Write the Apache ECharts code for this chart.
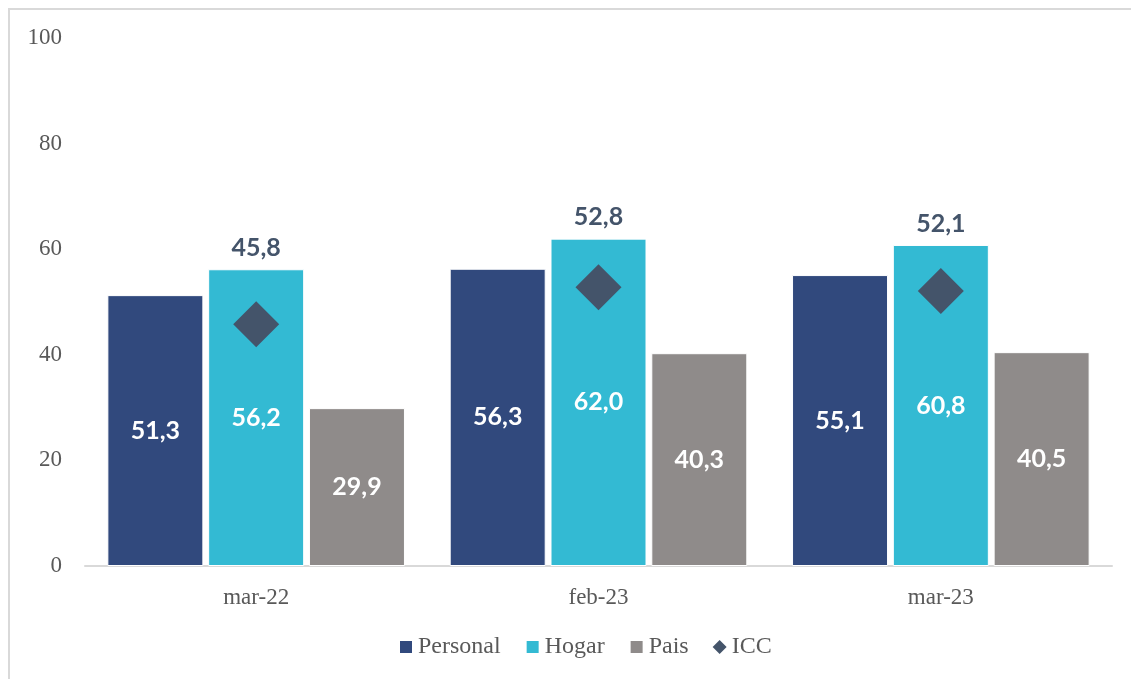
<!DOCTYPE html>
<html>
<head>
<meta charset="utf-8">
<script src="https://cdn.jsdelivr.net/npm/echarts@6/dist/echarts.min.js"></script>
<style>
  html, body { margin: 0; padding: 0; background: #fff; }
  .frame {
    position: absolute; left: 8px; top: 8px;
    width: 1140px; height: 700px;
    border: 2px solid #d9d9d9;
  }
  #iccChart { position: absolute; left: 0; top: 0; width: 1131px; height: 679px; }
</style>
</head>
<body>
<div class="frame"></div>
<div id="iccChart"></div>
<script>
const categories = ['mar-22', 'feb-23', 'mar-23']
const personal = [51.3, 56.3, 55.1]
const hogar = [56.2, 62.0, 60.8]
const pais = [29.9, 40.3, 40.5]
const icc = [45.8, 52.8, 52.1]
const yTicks = [0, 20, 40, 60, 80, 100]

const serif = '"Liberation Serif", "DejaVu Serif", serif'
const sans = 'Lato, "Open Sans", sans-serif'

const fmt = (v) => v.toFixed(1).replace('.', ',')

const insideLabel = {
  show: true,
  position: 'inside',
  color: '#fff',
  fontFamily: sans,
  fontWeight: 'bold',
  fontSize: 25,
  formatter: (p) => fmt(p.value)
}

const myChart = echarts.init(document.getElementById('iccChart'))
const options = {
  animation: false,
  grid: { left: 85, right: 19, top: 38, bottom: 113 },
  legend: {
    bottom: 15,
    left: 393,
    itemWidth: 14,
    itemHeight: 14,
    itemGap: 24,
    textStyle: { fontFamily: serif, fontSize: 24, color: '#595959' },
    data: [
      { name: 'Personal', icon: 'rect' },
      { name: 'Hogar', icon: 'rect' },
      { name: 'Pais', icon: 'rect' },
      { name: 'ICC', icon: 'diamond' }
    ]
  },
  xAxis: {
    type: 'category',
    data: categories,
    axisLine: { lineStyle: { color: '#d9d9d9', width: 2 } },
    axisTick: { show: false },
    axisLabel: { fontFamily: serif, fontSize: 23, color: '#595959', margin: 20 }
  },
  yAxis: {
    type: 'value',
    min: yTicks[0],
    max: yTicks[yTicks.length - 1],
    interval: 20,
    splitLine: { show: false },
    axisLine: { show: false },
    axisTick: { show: false },
    axisLabel: { fontFamily: serif, fontSize: 23, color: '#595959', margin: 23 }
  },
  series: [
    {
      name: 'Personal',
      type: 'bar',
      barWidth: 96,
      data: personal,
      itemStyle: { color: '#31497d', borderColor: '#fff', borderWidth: 1 },
      label: insideLabel
    },
    {
      name: 'Hogar',
      type: 'bar',
      barWidth: 96,
      data: hogar,
      itemStyle: { color: '#33bad3', borderColor: '#fff', borderWidth: 1 },
      label: insideLabel
    },
    {
      name: 'Pais',
      type: 'bar',
      barWidth: 96,
      barGap: '5%',
      data: pais,
      itemStyle: { color: '#8f8b8a', borderColor: '#fff', borderWidth: 1 },
      label: insideLabel
    },
    {
      name: 'ICC',
      type: 'scatter',
      symbol: 'diamond',
      symbolSize: 46,
      data: icc,
      itemStyle: { color: '#44546a', opacity: 1 }
    },
    {
      // etiqueta del ICC, sobre la barra de Hogar
      name: 'ICC etiqueta',
      type: 'scatter',
      symbolSize: 0,
      data: hogar,
      silent: true,
      itemStyle: { opacity: 1 },
      label: {
        show: true,
        position: 'top',
        distance: 9,
        color: '#44546a',
        fontFamily: sans,
        fontWeight: 'bold',
        fontSize: 25,
        formatter: (p) => fmt(icc[p.dataIndex])
      }
    }
  ]
}
myChart.setOption(options)
</script>
</body>
</html>
